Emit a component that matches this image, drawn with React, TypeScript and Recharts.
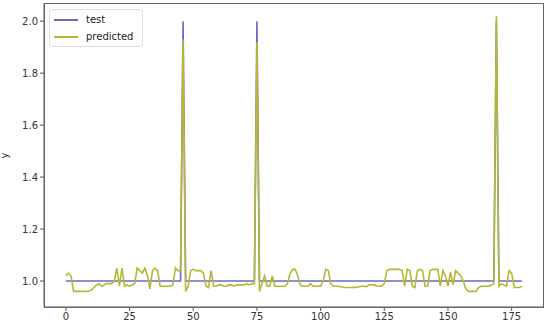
import React from "react";
import { Line, LineChart, XAxis, YAxis } from "recharts";

// x positions 0..179
const testSpikes = [46, 75, 169];

// predicted values
const predicted = [
  1.02, 1.03, 1.02, 0.96, 0.96, 0.96, 0.96, 0.96, 0.96, 0.962,
  0.965, 0.975, 0.985, 0.99, 0.98, 0.985, 0.99, 0.99, 0.99, 1.0,
  1.05, 0.98, 1.05, 0.98, 0.985, 0.98, 0.985, 0.99, 1.05, 1.04,
  1.03, 1.05, 1.02, 0.97, 1.04, 1.05, 1.04, 0.98, 0.98, 0.98,
  0.98, 0.98, 0.985, 1.05, 1.04, 1.04, 1.93, 0.96, 0.98, 1.04,
  1.045, 1.04, 1.04, 1.04, 1.03, 0.98, 0.975, 1.04, 0.98, 0.98,
  0.985, 0.985, 0.98, 0.98, 0.985, 0.985, 0.98, 0.985, 0.985, 0.985,
  0.985, 0.99, 0.985, 0.99, 0.99, 1.92, 0.96, 0.99, 1.02, 0.98,
  0.98, 1.02, 0.98, 0.98, 0.98, 0.98, 0.98, 0.99, 1.03, 1.045,
  1.045, 1.02, 0.985, 0.98, 0.98, 0.98, 0.99, 0.98, 0.98, 0.98,
  0.98, 1.0, 1.045, 1.04, 0.99, 0.98, 0.98, 0.98, 0.978, 0.976,
  0.975, 0.975, 0.975, 0.976, 0.975, 0.978, 0.98, 0.98, 0.978, 0.985,
  0.985, 0.985, 0.98, 0.98, 0.98, 0.99, 1.04, 1.045, 1.045, 1.045,
  1.045, 1.045, 1.04, 0.98, 1.045, 1.04, 0.98, 0.975, 1.04, 1.045,
  1.04, 0.98, 0.98, 1.04, 1.045, 1.045, 1.045, 0.98, 1.04, 1.02,
  0.98, 1.035, 0.985, 1.04, 1.03, 1.02, 1.0, 0.97, 0.96, 0.96,
  0.96, 0.96, 0.975, 0.98, 0.98, 0.98, 0.98, 0.985, 0.99, 2.02,
  0.98, 0.99, 0.985, 0.98, 1.04, 1.03, 0.975, 0.975, 0.975, 0.98,
];

const xTicks = [0, 25, 50, 75, 100, 125, 150, 175];
const yTicks = [1.0, 1.2, 1.4, 1.6, 1.8, 2.0];

const TEST_COLOR = "#6a6ac6";
const PRED_COLOR = "#b7b735";

const data = predicted.map((p, i) => ({
  x: i,
  test: testSpikes.includes(i) ? 2.0 : 1.0,
  predicted: p,
}));

const tickStyle = { fontSize: 10, fill: "#333", fontFamily: "DejaVu Sans" };

function LegendBox() {
  const items = [
    { name: "test", color: TEST_COLOR },
    { name: "predicted", color: PRED_COLOR },
  ];
  return (
    <div
      style={{
        position: "absolute",
        left: 49,
        top: 9,
        border: "1px solid #ddd",
        borderRadius: 3,
        background: "rgba(255,255,255,0.8)",
        padding: "1px 6px 1px 4px",
        fontFamily: "DejaVu Sans",
        fontSize: 10,
        color: "#222",
        width: 82,
      }}
    >
      {items.map((it) => (
        <div key={it.name} style={{ display: "flex", alignItems: "center", height: 17 }}>
          <span style={{ display: "inline-block", width: 24, height: 2, background: it.color, marginRight: 8 }} />
          {it.name}
        </div>
      ))}
    </div>
  );
}

export default function App() {
  return (
    <div style={{ position: "absolute", left: 0, top: 0, width: 550, height: 329, background: "#fff" }}>
      <div
        style={{
          position: "absolute",
          left: 2,
          top: 150,
          fontFamily: "DejaVu Sans",
          fontSize: 10,
          color: "#333",
          transform: "rotate(-90deg)",
        }}
      >
        y
      </div>
      <LineChart width={550} height={329} data={data} margin={{ top: 3, right: 6, bottom: 0, left: 0 }}>
        <XAxis
          dataKey="x"
          type="number"
          domain={[-8.6, 187.7]}
          ticks={xTicks}
          allowDataOverflow
          height={22}
          tick={tickStyle}
          tickSize={4}
          tickMargin={2}
          stroke="#555"
        />
        <YAxis
          type="number"
          domain={[0.9, 2.07]}
          ticks={yTicks}
          allowDataOverflow
          width={44}
          tick={tickStyle}
          tickSize={4}
          tickMargin={2}
          tickFormatter={(v: number) => v.toFixed(1)}
          stroke="#555"
        />
        <Line dataKey="test" stroke={TEST_COLOR} strokeWidth={1.6} dot={false} isAnimationActive={false} type="linear" />
        <Line dataKey="predicted" stroke={PRED_COLOR} strokeWidth={1.6} dot={false} isAnimationActive={false} type="linear" />
      </LineChart>
      <div
        style={{
          position: "absolute",
          left: 44,
          top: 3,
          width: 500,
          height: 305,
          border: "1px solid #666",
          boxSizing: "border-box",
          pointerEvents: "none",
        }}
      />
      <LegendBox />
    </div>
  );
}
